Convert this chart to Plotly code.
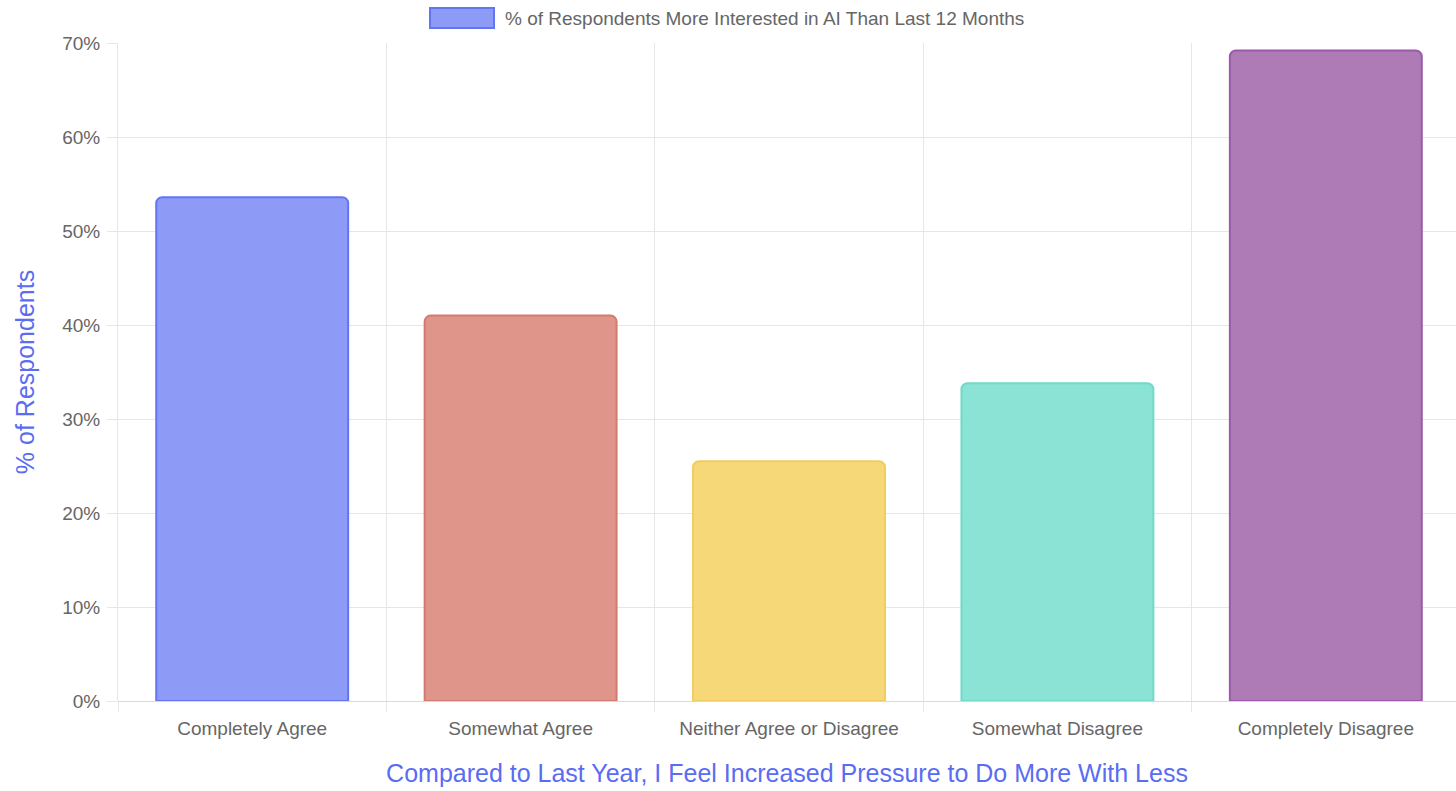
import plotly.graph_objects as go

# Survey responses: share of respondents more interested in AI than 12 months ago
categories = [
    "Completely Agree",
    "Somewhat Agree",
    "Neither Agree or Disagree",
    "Somewhat Disagree",
    "Completely Disagree",
]
values = [53.6, 41.0, 25.5, 33.8, 69.2]
series_name = "% of Respondents More Interested in AI Than Last 12 Months"
y_ticks = [0, 10, 20, 30, 40, 50, 60, 70]
y_tick_labels = [f"{v}%" for v in y_ticks]

fill_colors = ["#8d9bf6", "#df958a", "#f7d879", "#8be3d5", "#ae7bb7"]
line_colors = ["#6275f2", "#d27a6e", "#f0cc5e", "#70dac8", "#9b5aa9"]

FONT = "Liberation Sans, Arial, Helvetica, sans-serif"
TICK_GREY = "#666666"
TITLE_BLUE = "#5a6cf2"
GRID = "#e6e6e6"

fig = go.Figure(
    go.Bar(
        x=categories,
        y=values,
        name=series_name,
        marker=dict(color=fill_colors, line=dict(color=line_colors, width=2)),
        width=0.715,
        showlegend=False,
        hovertemplate="%{x}: %{y}%<extra></extra>",
    )
)

# Legend swatch and label drawn at the top centre of the canvas
fig.add_shape(
    type="rect", xref="paper", yref="paper",
    x0=(430 - 118) / 1338, x1=(494 - 118) / 1338,
    y0=1 + (43 - 28) / 658, y1=1 + (43 - 8) / 658,
    fillcolor=fill_colors[0], line=dict(color=line_colors[0], width=2),
)
fig.add_annotation(
    text=series_name, xref="paper", yref="paper",
    x=(503 - 118) / 1338, y=1 + (43 - 18) / 658,
    xanchor="left", yanchor="middle", showarrow=False,
    font=dict(family=FONT, size=19, color=TICK_GREY),
)

fig.update_layout(
    width=1456,
    height=791,
    margin=dict(l=118, r=0, t=43, b=90),
    paper_bgcolor="white",
    plot_bgcolor="white",
    font=dict(family=FONT, color=TICK_GREY),
    barcornerradius=6,
    xaxis=dict(
        type="category",
        range=[-0.5, 4.485],
        tickson="boundaries",
        showgrid=True,
        gridcolor=GRID,
        gridwidth=1,
        ticks="outside",
        ticklen=10,
        tickcolor=GRID,
        showline=False,
        ticklabelstandoff=14,
        tickfont=dict(family=FONT, size=19, color=TICK_GREY),
        title=dict(
            text="Compared to Last Year, I Feel Increased Pressure to Do More With Less",
            font=dict(family=FONT, size=25, color=TITLE_BLUE),
            standoff=26,
        ),
    ),
    yaxis=dict(
        range=[0, 70],
        tickvals=y_ticks,
        ticktext=y_tick_labels,
        showgrid=True,
        gridcolor=GRID,
        gridwidth=1,
        zeroline=True,
        zerolinecolor="#d9d9d9",
        zerolinewidth=1,
        showline=True,
        linecolor=GRID,
        linewidth=1,
        ticks="outside",
        ticklen=10,
        tickcolor=GRID,
        ticklabelstandoff=3,
        tickfont=dict(family=FONT, size=19, color=TICK_GREY),
        title=dict(
            text="% of Respondents",
            font=dict(family=FONT, size=25, color=TITLE_BLUE),
            standoff=20,
        ),
    ),
)

fig.write_html("out.html")
